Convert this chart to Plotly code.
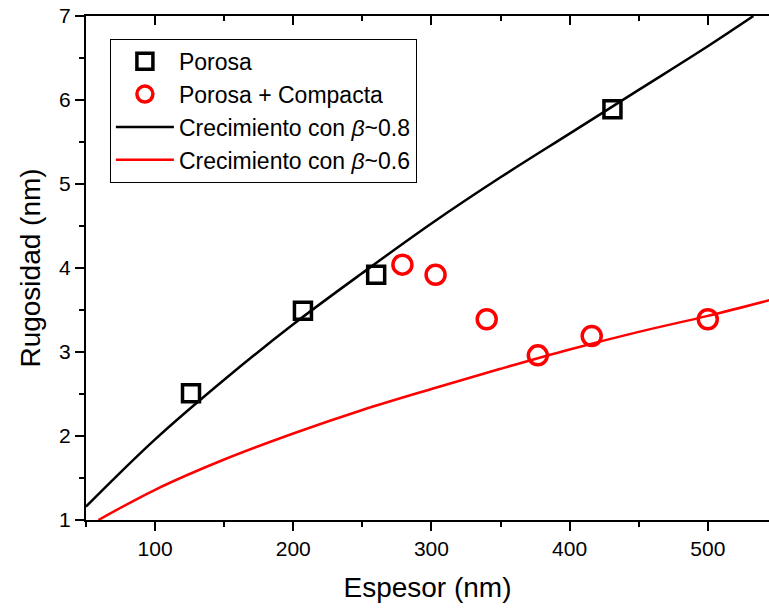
import plotly.graph_objects as go

# Measured roughness vs. film thickness
porosa_x = [126, 207, 260, 431]
porosa_y = [2.51, 3.49, 3.92, 5.89]

compacta_x = [279, 303, 340, 377, 416, 500]
compacta_y = [4.04, 3.92, 3.39, 2.96, 3.19, 3.39]

# Growth-law curves (points along each curve)
fit08_x = [50, 100, 150, 200, 250, 300, 350, 400, 450, 500, 533]
fit08_y = [1.16, 1.96, 2.67, 3.33, 3.94, 4.53, 5.08, 5.60, 6.12, 6.64, 7.0]

fit06_x = [59, 100, 150, 200, 250, 300, 350, 400, 450, 500, 550]
fit06_y = [1.0, 1.36, 1.72, 2.03, 2.31, 2.56, 2.80, 3.03, 3.24, 3.43, 3.64]

x_ticks = [100, 200, 300, 400, 500]
y_ticks = [1, 2, 3, 4, 5, 6, 7]

FONT = "Liberation Sans, Arial, sans-serif"
X_RANGE = [50, 544.3]
Y_RANGE = [1, 7]

fig = go.Figure()

fig.add_trace(go.Scatter(
    x=porosa_x, y=porosa_y, mode="markers", name="Porosa",
    marker=dict(symbol="square-open", size=17, color="black",
                line=dict(width=3.5, color="black")),
))
fig.add_trace(go.Scatter(
    x=compacta_x, y=compacta_y, mode="markers", name="Porosa + Compacta",
    marker=dict(symbol="circle-open", size=19, color="#ff0000",
                line=dict(width=3.5, color="#ff0000")),
))
fig.add_trace(go.Scatter(
    x=fit08_x, y=fit08_y, mode="lines", name="Crecimiento con <i>β</i>~0.8",
    line=dict(color="black", width=2.5, shape="spline"),
))
fig.add_trace(go.Scatter(
    x=fit06_x, y=fit06_y, mode="lines", name="Crecimiento con <i>β</i>~0.6",
    line=dict(color="#ff0000", width=2.5, shape="spline"),
))
# carrier for the top axis
fig.add_trace(go.Scatter(
    x=[X_RANGE[0]], y=[Y_RANGE[0]], xaxis="x2", mode="markers",
    marker=dict(opacity=0), showlegend=False, hoverinfo="skip",
))

fig.update_layout(
    width=769, height=610,
    margin=dict(l=86, r=0, t=16, b=90),
    paper_bgcolor="white", plot_bgcolor="white",
    font=dict(family=FONT, color="black"),
    showlegend=True,
    legend=dict(
        x=0.035, y=0.955, xanchor="left", yanchor="top",
        bordercolor="black", borderwidth=1, bgcolor="white",
        font=dict(family=FONT, size=23, color="black"),
        tracegroupgap=0, itemwidth=58,
    ),
    xaxis=dict(
        range=X_RANGE, tickvals=x_ticks, ticktext=[str(v) for v in x_ticks],
        showgrid=False, zeroline=False,
        showline=True, linecolor="black", linewidth=2,
        ticks="outside", ticklen=9, tickwidth=2, tickcolor="black",
        minor=dict(dtick=50, tick0=0, ticks="outside", ticklen=5,
                   tickwidth=2, tickcolor="black", showgrid=False),
        tickfont=dict(family=FONT, size=21),
        title=dict(text="Espesor (nm)", font=dict(family=FONT, size=28),
                   standoff=18),
    ),
    xaxis2=dict(
        range=X_RANGE, overlaying="x", side="top", anchor="y",
        tickvals=x_ticks, showticklabels=False,
        showgrid=False, zeroline=False,
        showline=True, linecolor="black", linewidth=2,
        ticks="inside", ticklen=9, tickwidth=2, tickcolor="black",
        minor=dict(dtick=50, tick0=0, ticks="inside", ticklen=5,
                   tickwidth=2, tickcolor="black", showgrid=False),
    ),
    yaxis=dict(
        range=Y_RANGE, tickvals=y_ticks, ticktext=[str(v) for v in y_ticks],
        showgrid=False, zeroline=False,
        showline=True, linecolor="black", linewidth=2,
        ticks="outside", ticklen=9, tickwidth=2, tickcolor="black",
        minor=dict(dtick=0.5, tick0=0, ticks="outside", ticklen=5,
                   tickwidth=2, tickcolor="black", showgrid=False),
        tickfont=dict(family=FONT, size=21),
        title=dict(text="Rugosidad (nm)", font=dict(family=FONT, size=28),
                   standoff=10),
    ),
)

fig.write_html("out.html")
